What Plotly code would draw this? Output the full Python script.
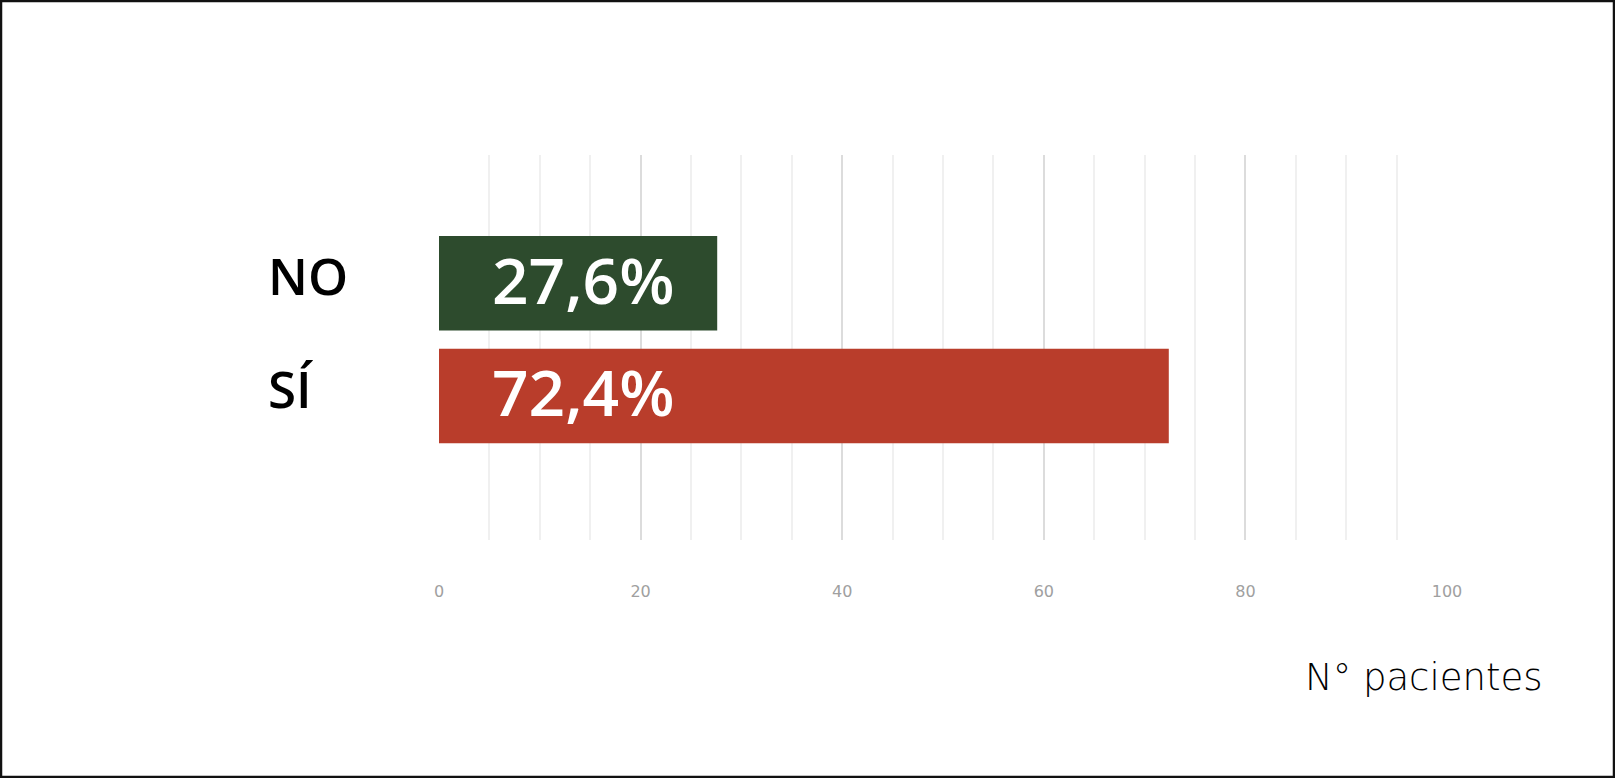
import plotly.graph_objects as go

# data
categories = ["SÍ", "NO"]
values = [72.4, 27.6]
bar_colors = ["#B93D2B", "#2D4B2D"]
x_ticks = [0, 20, 40, 60, 80, 100]
axis_title = "N° pacientes"

W, H = 1615, 778
ml, mr, mt, mb = 439, 168, 155, 238
pw, ph = W - ml - mr, H - mt - mb


def px_x(x):
    return (x - ml) / pw


def px_y(y):
    return (H - mb - y) / ph


def pct(v):
    return f"{v:.1f}%".replace(".", ",")


fig = go.Figure()

fig.add_trace(go.Bar(
    y=categories,
    x=values,
    orientation="h",
    marker=dict(color=bar_colors, line=dict(width=0)),
    hoverinfo="skip",
))

# percent labels inside bars, all starting at same offset
for cat, v in zip(categories, values):
    fig.add_annotation(
        x=0, y=cat, xref="x", yref="y",
        text=pct(v), showarrow=False,
        xanchor="left", yanchor="middle", xshift=51, yshift=4,
        font=dict(family="Open Sans", size=64, color="white", weight=600),
    )
    # category labels, left aligned
    fig.add_annotation(
        x=px_x(266), y=cat, xref="paper", yref="y",
        text=cat, showarrow=False,
        xanchor="left", yanchor="middle", yshift=8,
        font=dict(family="Open Sans", size=51, color="black", weight=600),
    )

fig.add_annotation(
    x=px_x(1544), y=px_y(677), xref="paper", yref="paper",
    text=axis_title, showarrow=False,
    xanchor="right", yanchor="middle",
    font=dict(family="DejaVu Sans", size=37, color="black", weight=200),
)

# outer frame
fig.add_shape(
    type="rect", xref="paper", yref="paper",
    x0=px_x(1), x1=px_x(W - 1), y0=px_y(H - 1), y1=px_y(1),
    line=dict(color="#111", width=2.5), fillcolor="rgba(0,0,0,0)",
)

fig.update_layout(
    width=W, height=H,
    margin=dict(l=ml, r=mr, t=mt, b=mb),
    paper_bgcolor="white", plot_bgcolor="white",
    bargap=0.16,
    showlegend=False,
    xaxis=dict(
        range=[0, 100], tickvals=x_ticks,
        showgrid=True, gridcolor="#dcdcdc", gridwidth=2,
        zeroline=False, showline=False,
        tickfont=dict(family="DejaVu Sans", size=16, color="#a0a0a0"),
        ticklabelstandoff=40,
        minor=dict(dtick=5, showgrid=True, gridcolor="#f0f0f0", gridwidth=2),
        fixedrange=True,
    ),
    yaxis=dict(
        range=[-1.28, 2.14], showticklabels=False,
        showgrid=False, zeroline=False, fixedrange=True,
    ),
)

fig.write_html(
    "out.html",
    config={"displayModeBar": False},
    post_script="document.body.style.margin='0';",
)
